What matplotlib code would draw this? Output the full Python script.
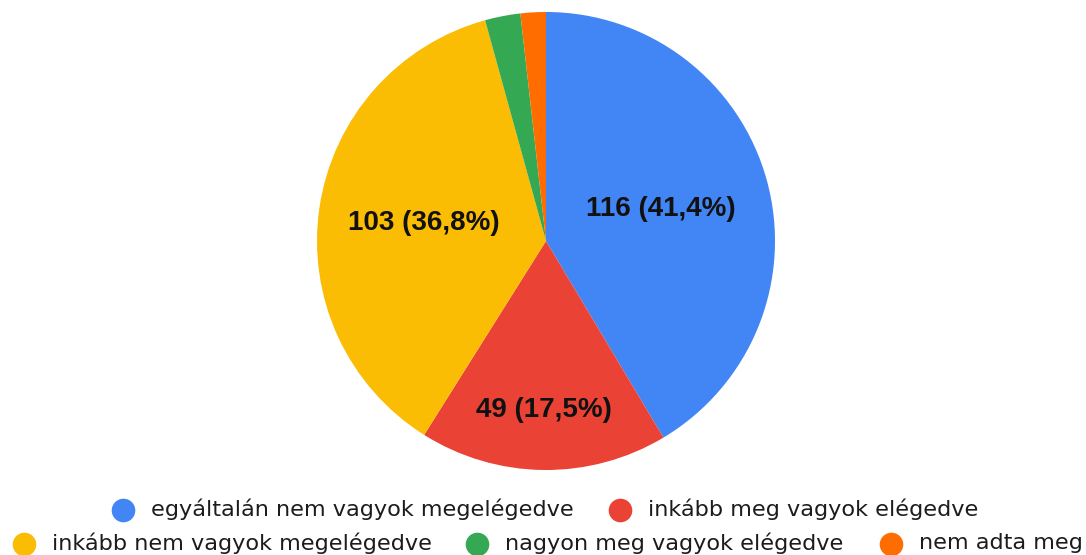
import matplotlib.pyplot as plt
from matplotlib.lines import Line2D
import numpy as np

# Data
categories = ['egyáltalán nem vagyok megelégedve',
              'inkább meg vagyok elégedve',
              'inkább nem vagyok megelégedve',
              'nagyon meg vagyok elégedve',
              'nem adta meg']
counts = [116, 49, 103, 7, 5]
colors = ['#4285F4', '#EA4335', '#FBBC04', '#34A853', '#FF6D01']

W, H = 1086, 555
fig = plt.figure(figsize=(W / 100, H / 100), dpi=100)

# Pie axes: centre (546, 241) px, radius 229 px
cx, cy, r = 546, 241, 229
ax = fig.add_axes([(cx - r) / W, (H - cy - r) / H, 2 * r / W, 2 * r / H])
wedges, _ = ax.pie(counts, colors=colors, startangle=90, counterclock=False,
                   radius=1.0, wedgeprops=dict(linewidth=0))
ax.set_xlim(-1, 1)
ax.set_ylim(-1, 1)
ax.set_aspect('equal')
ax.axis('off')

# Value labels on the big slices
total = sum(counts)
label_dist = [0.52, 0.74, 0.54, None, None]
for w, n, d in zip(wedges, counts, label_dist):
    if d is None:
        continue
    mid = np.deg2rad((w.theta1 + w.theta2) / 2)
    pct = f"{100 * n / total:.1f}".replace('.', ',')
    ax.text(d * np.cos(mid), d * np.sin(mid), f"{n} ({pct}%)",
            ha='center', va='center', fontsize=20, fontweight='bold',
            family='Liberation Sans', color='#111111')

# Legend, two rows laid out by hand (Google-chart style, second row overflows)
legend_pos = [(123, 510), (620, 510), (24, 544), (477, 544), (891, 544)]
for (mx, my), label, col in zip(legend_pos, categories, colors):
    fig.add_artist(Line2D([mx / W], [1 - my / H], marker='o', markersize=17,
                          color=col, markeredgewidth=0, linestyle='none',
                          transform=fig.transFigure))
    fig.text((mx + 28) / W, 1 - (my - 1) / H, label, ha='left', va='center',
             fontsize=16.1, family='DejaVu Sans', color='#1c1c1c')

fig.savefig('out.png', dpi=100)
